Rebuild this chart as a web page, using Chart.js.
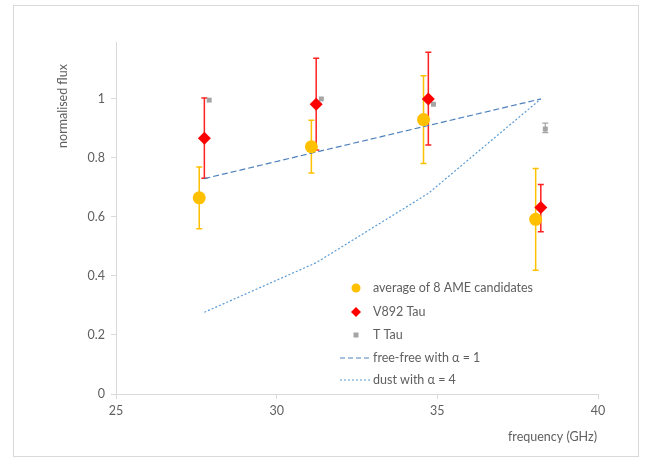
<!DOCTYPE html>
<html>
<head>
<meta charset="utf-8">
<script src="https://cdn.jsdelivr.net/npm/chart.js@4.4.1/dist/chart.umd.min.js"></script>
<style>
  html, body { margin: 0; padding: 0; background: #fff; }
</style>
</head>
<body>
<canvas id="myChart" width="646" height="460"></canvas>
<script>
// average of 8 AME candidates
const freqAvg = [27.59, 31.08, 34.57, 38.06];
const fluxAvg = [0.665, 0.838, 0.93, 0.592];
const avgLow = [0.56, 0.749, 0.781, 0.419];
const avgHigh = [0.769, 0.928, 1.079, 0.764];

// V892 Tau
const freqV892 = [27.75, 31.23, 34.72, 38.22];
const fluxV892 = [0.867, 0.982, 1.0, 0.632];
const v892Low = [0.731, 0.827, 0.844, 0.55];
const v892High = [1.003, 1.138, 1.158, 0.71];

// T Tau
const freqTTau = [27.9, 31.39, 34.88, 38.36];
const fluxTTau = [0.996, 1.0, 0.982, 0.898];
const tTauLow = [null, null, null, 0.886];
const tTauHigh = [null, null, null, 0.918];

// model curves
const freqModel = [27.75, 31.23, 34.72, 38.22];
const fluxFreeFree = [0.73, 0.82, 0.91, 1.0];
const fluxDust = [0.277, 0.445, 0.68, 1.0];

const legendLabels = ['average of 8 AME candidates', 'V892 Tau', 'T Tau', 'free-free with \u03b1 = 1', 'dust with \u03b1 = 4'];
const yTicks = [0, 0.2, 0.4, 0.6, 0.8, 1];

const textColor = '#5f5f5f';
const axisColor = '#d9d9d9';
const font = 'Lato, "Open Sans", sans-serif';
const fontSize = 12.5;

const pts = (xs, ys) => xs.map((x, i) => ({ x: x, y: ys[i] }));

const errorBars = {
  id: 'errorBars',
  beforeDatasetsDraw(chart) {
    const { ctx, scales: { x, y } } = chart;
    const sets = [
      [freqAvg, avgLow, avgHigh, '#ffc000', 1.5],
      [freqV892, v892Low, v892High, '#ff2020', 1.5],
      [freqTTau, tTauLow, tTauHigh, '#a5a5a5', 1.2]
    ];
    ctx.save();
    sets.forEach(([xs, lo, hi, col, w]) => {
      ctx.strokeStyle = col;
      ctx.lineWidth = w;
      xs.forEach((f, i) => {
        if (lo[i] == null) return;
        const px = x.getPixelForValue(f);
        const y1 = y.getPixelForValue(lo[i]);
        const y2 = y.getPixelForValue(hi[i]);
        ctx.beginPath();
        ctx.moveTo(px, y1); ctx.lineTo(px, y2);
        ctx.moveTo(px - 3, y1); ctx.lineTo(px + 3, y1);
        ctx.moveTo(px - 3, y2); ctx.lineTo(px + 3, y2);
        ctx.stroke();
      });
    });
    ctx.restore();
  }
};

const extras = {
  id: 'extras',
  beforeDraw(chart) {
    const ctx = chart.ctx;
    ctx.save();
    ctx.fillStyle = '#fff';
    ctx.fillRect(0, 0, chart.width, chart.height);
    ctx.strokeStyle = axisColor;
    ctx.lineWidth = 1;
    ctx.strokeRect(13.5, 5.5, 625, 451);
    ctx.restore();
  },
  afterDraw(chart) {
    const ctx = chart.ctx;
    ctx.save();
    ctx.fillStyle = textColor;
    ctx.font = fontSize + 'px ' + font;
    // axis titles
    ctx.textAlign = 'right';
    ctx.textBaseline = 'middle';
    ctx.fillText('frequency (GHz)', 597, 437);
    ctx.translate(63, 106);
    ctx.rotate(-Math.PI / 2);
    ctx.textAlign = 'center';
    ctx.fillText('normalised flux', 0, 0);
    ctx.restore();

    // legend
    ctx.save();
    ctx.font = fontSize + 'px ' + font;
    ctx.textAlign = 'left';
    ctx.textBaseline = 'middle';
    const rowY = [288, 312, 335, 358, 380];
    const mx = 356;
    legendLabels.forEach((t, i) => {
      const yy = rowY[i];
      ctx.fillStyle = textColor;
      ctx.fillText(t, 373, yy);
      if (i === 0) {
        ctx.fillStyle = '#ffc000';
        ctx.beginPath(); ctx.arc(mx, yy, 4.5, 0, Math.PI * 2); ctx.fill();
      } else if (i === 1) {
        ctx.fillStyle = '#ff0000';
        ctx.beginPath();
        ctx.moveTo(mx, yy - 5); ctx.lineTo(mx + 5, yy); ctx.lineTo(mx, yy + 5); ctx.lineTo(mx - 5, yy);
        ctx.closePath(); ctx.fill();
      } else if (i === 2) {
        ctx.fillStyle = '#a5a5a5';
        ctx.fillRect(mx - 2.5, yy - 2.5, 5, 5);
      } else {
        ctx.strokeStyle = i === 3 ? '#4f81bd' : '#5b9bd5';
        ctx.lineWidth = 1.2;
        ctx.setLineDash(i === 3 ? [5, 3] : [2, 2]);
        ctx.beginPath(); ctx.moveTo(340, yy); ctx.lineTo(370, yy); ctx.stroke();
        ctx.setLineDash([]);
      }
    });
    ctx.restore();
  }
};

new Chart(document.getElementById('myChart'), {
  type: 'scatter',
  data: {
    datasets: [
      {
        label: legendLabels[3],
        data: pts(freqModel, fluxFreeFree),
        showLine: true,
        borderColor: '#4f81bd',
        borderWidth: 1.2,
        borderDash: [6, 3],
        pointRadius: 0,
        order: 4
      },
      {
        label: legendLabels[4],
        data: pts(freqModel, fluxDust),
        showLine: true,
        borderColor: '#5b9bd5',
        borderWidth: 1.2,
        borderDash: [2, 2],
        pointRadius: 0,
        order: 5
      },
      {
        label: legendLabels[2],
        data: pts(freqTTau, fluxTTau),
        pointStyle: 'rect',
        pointRadius: 3.5,
        backgroundColor: '#a5a5a5',
        borderColor: '#a5a5a5',
        borderWidth: 0,
        order: 3
      },
      {
        label: legendLabels[0],
        data: pts(freqAvg, fluxAvg),
        pointStyle: 'circle',
        pointRadius: 6.5,
        backgroundColor: '#ffc000',
        borderColor: '#ffc000',
        borderWidth: 0,
        order: 2
      },
      {
        label: legendLabels[1],
        data: pts(freqV892, fluxV892),
        pointStyle: 'rectRot',
        pointRadius: 6.5,
        backgroundColor: '#ff0000',
        borderColor: '#ff0000',
        borderWidth: 0,
        order: 1
      }
    ]
  },
  options: {
    responsive: false,
    animation: false,
    devicePixelRatio: 1,
    layout: { padding: { top: 42, right: 48, left: 0, bottom: 0 } },
    plugins: {
      legend: { display: false },
      tooltip: { enabled: false }
    },
    scales: {
      x: {
        type: 'linear',
        min: 25,
        max: 40,
        afterFit: s => { s.height = 66; },
        ticks: {
          stepSize: 5,
          color: textColor,
          font: { family: font, size: fontSize },
          padding: 4
        },
        grid: { display: true, drawOnChartArea: false, color: axisColor, tickLength: 5 },
        border: { color: axisColor }
      },
      y: {
        type: 'linear',
        min: 0,
        max: 1.193,
        afterFit: s => { s.width = 116; },
        afterBuildTicks: s => { s.ticks = yTicks.map(v => ({ value: v })); },
        ticks: {
          color: textColor,
          font: { family: font, size: fontSize },
          padding: 6,
          callback: v => String(Math.round(v * 10) / 10)
        },
        grid: { display: true, drawOnChartArea: false, color: axisColor, tickLength: 5 },
        border: { color: axisColor }
      }
    }
  },
  plugins: [errorBars, extras]
});
</script>
</body>
</html>
